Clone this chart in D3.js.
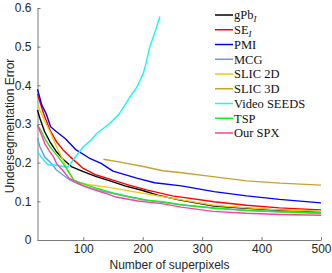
<!DOCTYPE html>
<html>
<head>
<meta charset="utf-8">
<script src="https://cdn.jsdelivr.net/npm/d3@7"></script>
<style>
  body { margin: 0; background: white; }
</style>
</head>
<body>
<div id="chart"></div>
<script>
// values: [superpixels, error]
const gpb = [[23,0.336],[27,0.315],[35,0.28],[44,0.254],[55,0.228],[66,0.209],[80,0.19],[100,0.177],[122,0.164],[145,0.153],[170,0.14],[200,0.128],[225,0.116],[263,0.103],[320,0.088],[375,0.082],[430,0.077],[500,0.073]]
const se = [[23,0.378],[33,0.328],[44,0.284],[55,0.254],[66,0.233],[78,0.215],[100,0.185],[122,0.168],[150,0.155],[177,0.142],[208,0.129],[250,0.114],[320,0.099],[375,0.09],[430,0.083],[500,0.078]]
const pmi = [[23,0.39],[30,0.35],[38,0.325],[45,0.293],[55,0.28],[70,0.262],[88,0.233],[110,0.212],[130,0.198],[150,0.178],[190,0.16],[220,0.148],[265,0.14],[320,0.125],[375,0.114],[430,0.105],[500,0.096]]
const mcg = [[23,0.263],[27,0.241],[35,0.215],[44,0.202],[55,0.181],[66,0.168],[78,0.155],[96,0.142],[113,0.134],[136,0.125],[165,0.115],[200,0.104],[260,0.092],[320,0.083],[375,0.077],[430,0.073],[500,0.069]]
const slic2d = [[23,0.349],[33,0.315],[44,0.28],[55,0.241],[66,0.207],[75,0.177],[84,0.155],[86,0.151],[110,0.143],[143,0.136],[177,0.127],[215,0.117],[260,0.105],[320,0.09],[375,0.083],[430,0.078],[500,0.074]]
const slic3d = [[134,0.209],[167,0.2],[201,0.19],[234,0.179],[266,0.174],[318,0.164],[375,0.153],[431,0.147],[500,0.142]]
const seeds = [[23,0.228],[33,0.207],[41,0.194],[52,0.194],[66,0.19],[75,0.19],[83,0.207],[100,0.241],[111,0.255],[123,0.276],[145,0.302],[160,0.325],[179,0.371],[190,0.395],[201,0.431],[206,0.46],[212,0.5],[221,0.539],[229,0.578]]
const tsp = [[23,0.297],[30,0.28],[35,0.263],[44,0.241],[55,0.22],[66,0.198],[77,0.172],[84,0.155],[100,0.145],[122,0.134],[150,0.122],[177,0.112],[208,0.103],[233,0.099],[270,0.09],[320,0.082],[375,0.076],[430,0.073],[500,0.07]]
const ourspx = [[23,0.297],[30,0.271],[35,0.25],[44,0.228],[50,0.215],[55,0.198],[65,0.181],[76,0.16],[86,0.151],[103,0.138],[120,0.129],[137,0.121],[153,0.112],[192,0.101],[232,0.094],[265,0.085],[318,0.074],[375,0.069],[431,0.066],[500,0.064]]

const names = ["gPb", "SE", "PMI", "MCG", "SLIC 2D", "SLIC 3D", "Video SEEDS", "TSP", "Our SPX"]
const colors = ["#000000", "#ff0000", "#0000ff", "#6a9be8", "#f2cc10", "#c9a032", "#19f5f5", "#19ee19", "#ff3fa0"]
const seriesData = [gpb, se, pmi, mcg, slic2d, slic3d, seeds, tsp, ourspx]
const xTicks = [100, 200, 300, 400, 500]
const yTicks = [0, 0.1, 0.2, 0.3, 0.4, 0.5, 0.6]

const W = 332, H = 273
const margin = {top: 8, right: 11, bottom: 33, left: 37.5}
const width = W - margin.left - margin.right
const height = H - margin.top - margin.bottom

const svg = d3.select("#chart").append("svg")
    .attr("width", W)
    .attr("height", H)
  .append("g")
    .attr("transform", `translate(${margin.left},${margin.top})`)

const x = d3.scaleLinear().domain([23, 500]).range([0, width])
const y = d3.scaleLinear().domain([0, 0.6]).range([height, 0])

const axisColor = "#7a7a7a"
const labelFont = "'Liberation Sans', Arial, sans-serif"

const xGroup = svg.append("g")
    .attr("transform", `translate(0,${height})`)
    .call(d3.axisBottom(x).tickValues(xTicks).tickSizeInner(-3).tickSizeOuter(0).tickPadding(4))
const yGroup = svg.append("g")
    .call(d3.axisLeft(y).tickValues(yTicks).tickFormat(d => d === 0 ? "0" : d3.format(".1f")(d))
        .tickSizeInner(-3).tickSizeOuter(0).tickPadding(6))

;[xGroup, yGroup].forEach(g => {
    g.select(".domain").attr("stroke", axisColor)
    g.selectAll(".tick line").attr("stroke", axisColor)
    g.selectAll(".tick text")
        .attr("fill", "#262626")
        .style("font-family", labelFont)
        .style("font-size", "12px")
})

// Lines
const line = d3.line()
    .x(d => x(d[0]))
    .y(d => y(d[1]))

svg.selectAll(".series")
    .data(seriesData)
    .join("path")
    .attr("class", "series")
    .attr("d", line)
    .attr("fill", "none")
    .attr("stroke", (d, i) => colors[i])
    .attr("stroke-width", 1.4)
    .attr("stroke-linejoin", "round")

// Axis titles
svg.append("text")
    .attr("x", 132)
    .attr("y", height + 29)
    .attr("text-anchor", "middle")
    .style("font-family", labelFont)
    .style("font-size", "12px")
    .attr("fill", "#262626")
    .text("Number of superpixels")

svg.append("text")
    .attr("transform", `translate(${14 - margin.left},${126 - margin.top}) rotate(-90)`)
    .attr("text-anchor", "middle")
    .style("font-family", labelFont)
    .style("font-size", "12px")
    .attr("fill", "#262626")
    .text("Undersegmentation Error")

// Legend
const legend = svg.append("g")
    .attr("transform", `translate(${215 - margin.left},${15 - margin.top})`)

const items = legend.selectAll("g")
    .data(names)
    .join("g")
    .attr("transform", (d, i) => `translate(0,${i * 14.75})`)

items.append("line")
    .attr("x1", 0).attr("x2", 18)
    .attr("stroke", (d, i) => colors[i])
    .attr("stroke-width", 1.5)

const txt = items.append("text")
    .attr("x", 19)
    .attr("dy", "0.35em")
    .style("font-family", "'Liberation Serif', 'DejaVu Serif', serif")
    .style("font-size", "12.5px")
    .attr("fill", "#111")
    .text(d => d)

txt.filter((d, i) => i < 2)
    .append("tspan")
    .attr("dy", "3")
    .style("font-size", "9px")
    .style("font-style", "italic")
    .text("I")
</script>
</body>
</html>
